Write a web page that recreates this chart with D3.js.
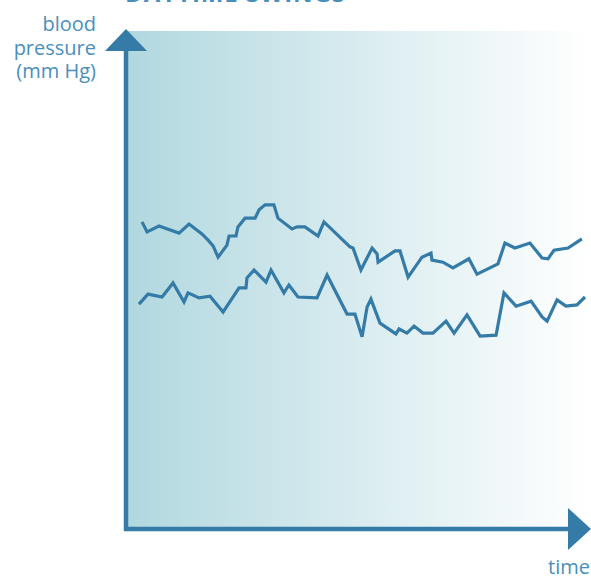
<!DOCTYPE html>
<html>
<head>
<meta charset="utf-8">
<script src="https://cdn.jsdelivr.net/npm/d3@7"></script>
<style>
  html, body { margin: 0; padding: 0; background: #fff; }
  svg { display: block; }
</style>
</head>
<body>
<div id="chart"></div>
<script>
// time of day (hours) and pressure (mm Hg)
const upperTime = [0.73, 0.99, 1.61, 2.65, 3.17, 3.84, 4.16, 4.42, 4.68, 5.14, 5.25, 5.61, 5.71, 6.08, 6.60, 6.81, 7.12, 7.58, 7.79, 8.52, 8.78, 9.19, 9.87, 10.18, 11.53, 11.69, 12.10, 12.68, 12.94, 12.99, 13.87, 14.13, 14.55, 15.27, 15.74, 15.79, 16.36, 16.88, 17.71, 18.13, 19.22, 19.58, 20.10, 20.88, 21.51, 21.82, 22.13, 22.86, 23.58];
const upperValue = [114.0, 111.6, 113.0, 111.3, 113.5, 111.1, 109.6, 108.2, 105.5, 108.4, 110.6, 110.6, 112.8, 114.9, 114.9, 116.9, 118.1, 118.1, 114.9, 112.3, 112.8, 112.8, 110.6, 114.0, 108.0, 107.7, 102.4, 107.7, 106.3, 104.3, 107.0, 107.0, 100.7, 105.5, 106.5, 104.8, 104.3, 102.9, 105.1, 101.4, 103.9, 108.9, 107.7, 108.9, 105.3, 105.1, 107.2, 107.7, 109.9];

const lowerTime = [0.57, 1.04, 1.77, 2.34, 2.91, 3.12, 3.69, 4.26, 4.94, 5.77, 6.13, 6.18, 6.55, 7.17, 7.43, 8.10, 8.36, 8.83, 9.82, 10.34, 11.38, 11.79, 12.16, 12.42, 12.62, 13.09, 13.92, 14.08, 14.49, 14.86, 15.32, 15.84, 16.52, 16.94, 17.61, 18.29, 19.12, 19.53, 20.16, 20.94, 21.51, 21.77, 22.29, 22.75, 23.32, 23.74];
const lowerValue = [94.2, 96.6, 95.9, 99.3, 94.7, 96.9, 95.7, 96.1, 92.3, 98.1, 98.1, 100.5, 102.4, 99.5, 102.4, 96.9, 98.8, 95.9, 95.7, 101.2, 91.8, 91.8, 86.3, 93.5, 95.4, 89.6, 87.0, 88.2, 87.2, 88.9, 87.2, 87.2, 90.1, 87.2, 91.6, 86.5, 86.7, 96.9, 93.7, 94.9, 91.1, 90.1, 95.2, 93.7, 94.0, 95.9];

const yLabel = ["blood", "pressure", "(mm Hg)"];
const xLabel = "time";
const title = "DAYTIME SWINGS";

const width = 591, height = 576;
const lineColor = "#347ba7";
const textColor = "#4a8fbb";
const font = "'Open Sans', Lato, sans-serif";

const svg = d3.select("#chart").append("svg")
  .attr("width", width)
  .attr("height", height);

const x = d3.scaleLinear().domain([0, 24]).range([128, 590]);
const y = d3.scaleLinear().domain([40, 160]).range([529, 31]);

// background gradient
const grad = svg.append("defs").append("linearGradient")
  .attr("id", "bg").attr("x1", 0).attr("x2", 1).attr("y1", 0).attr("y2", 0);
grad.append("stop").attr("offset", 0).attr("stop-color", "#b1d8df");
grad.append("stop").attr("offset", 0.45).attr("stop-color", "#d5eaee");
grad.append("stop").attr("offset", 1).attr("stop-color", "#ffffff");

svg.append("rect")
  .attr("x", x.range()[0]).attr("y", y.range()[1])
  .attr("width", x.range()[1] - x.range()[0])
  .attr("height", y.range()[0] - y.range()[1])
  .attr("fill", "url(#bg)");

// title, cut off by the top edge
svg.append("text")
  .attr("x", 125).attr("y", 2)
  .attr("textLength", 220)
  .attr("font-family", font)
  .attr("font-weight", 700)
  .attr("font-size", 24)
  .attr("fill", textColor)
  .text(title);

// lines
const line = d3.line()
  .x(d => x(d[0]))
  .y(d => y(d[1]));

const series = [
  d3.zip(upperTime, upperValue),
  d3.zip(lowerTime, lowerValue)
];

svg.selectAll("path.bp")
  .data(series)
  .enter()
  .append("path")
  .attr("class", "bp")
  .attr("d", line)
  .attr("fill", "none")
  .attr("stroke", lineColor)
  .attr("stroke-width", 3.2)
  .attr("stroke-linejoin", "miter");

// axes with arrow heads
const x0 = 126, yb = 529;
svg.append("path")
  .attr("d", `M${x0},46 V${yb} H572`)
  .attr("fill", "none")
  .attr("stroke", lineColor)
  .attr("stroke-width", 4.5);

svg.append("path")
  .attr("d", `M${x0},29 L${x0 + 21},51 L${x0 - 21},51 Z`)
  .attr("fill", lineColor);

svg.append("path")
  .attr("d", `M591,${yb} L568,${yb - 21} L568,${yb + 21} Z`)
  .attr("fill", lineColor);

// labels
svg.append("text")
  .attr("text-anchor", "end")
  .attr("font-family", font)
  .attr("font-size", 20)
  .attr("fill", textColor)
  .selectAll("tspan")
  .data(yLabel)
  .enter()
  .append("tspan")
  .attr("x", 96)
  .attr("y", (d, i) => 31 + i * 23.5)
  .text(d => d);

svg.append("text")
  .attr("x", 590).attr("y", 574)
  .attr("text-anchor", "end")
  .attr("font-family", font)
  .attr("font-size", 20)
  .attr("fill", textColor)
  .text(xLabel);
</script>
</body>
</html>
